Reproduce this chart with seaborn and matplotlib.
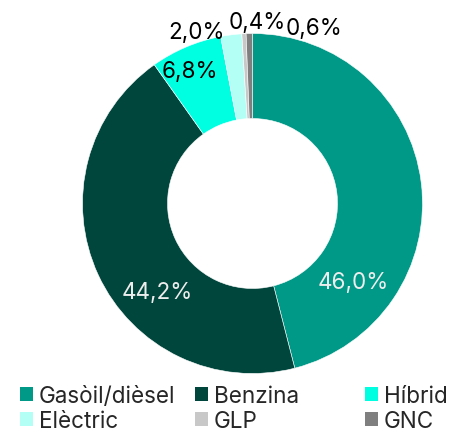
"""Donut chart: share of vehicle fleet by fuel type."""

import matplotlib.pyplot as plt
import seaborn as sns
from matplotlib.patches import Patch

# data
fuel_types = ["Gasòil/dièsel", "Benzina", "Híbrid", "Elèctric", "GLP", "GNC"]
shares = [46.0, 44.2, 6.8, 2.0, 0.4, 0.6]
fuel_colors = ["#009886", "#00463C", "#00FFE0", "#B3FFF6", "#C8C8C8", "#7F7F7F"]
label_colors = ["#EDEDED", "#EDEDED", "black", "black", "black", "black"]

# label anchor points, in units of the outer radius
label_xy = [(0.59, -0.46), (-0.56, -0.52), (-0.37, 0.78),
            (-0.33, 1.01), (0.03, 1.07), (0.36, 1.03)]

FONT = ["Inter", "DejaVu Sans"]
FS = 16.2

sns.set_theme(style="white")
plt.rcParams["font.family"] = FONT

fig = plt.figure(figsize=(4.52, 4.35), dpi=100)
ax = fig.add_axes([48.5 / 452, 26.5 / 435, 408 / 452, 408 / 435])

wedges, _ = ax.pie(
    shares, colors=fuel_colors, startangle=90, counterclock=False,
    radius=1.0, wedgeprops=dict(width=0.5, edgecolor="white", linewidth=0.4),
)
ax.set_xlim(-1.2, 1.2)
ax.set_ylim(-1.2, 1.2)
ax.axis("off")

for share, (x, y), c in zip(shares, label_xy, label_colors):
    ax.text(x, y, f"{share:.1f}%".replace(".", ","), ha="center", va="center",
            fontsize=FS, color=c, clip_on=False)

# legend: three equal-width columns, filled row by row
col_left = [20 / 452, 195 / 452, 365 / 452]
for col, left in enumerate(col_left):
    idx = [col, col + 3]
    handles = [Patch(facecolor=fuel_colors[i], edgecolor="none") for i in idx]
    fig.legend(
        handles, [fuel_types[i] for i in idx], loc="upper left",
        bbox_to_anchor=(left, 1 - 386 / 435), frameon=False, fontsize=FS,
        handlelength=0.6, handleheight=0.6, handletextpad=0.25,
        labelspacing=0.12, borderpad=0, borderaxespad=0,
    )

fig.savefig("out.png", dpi=100)
